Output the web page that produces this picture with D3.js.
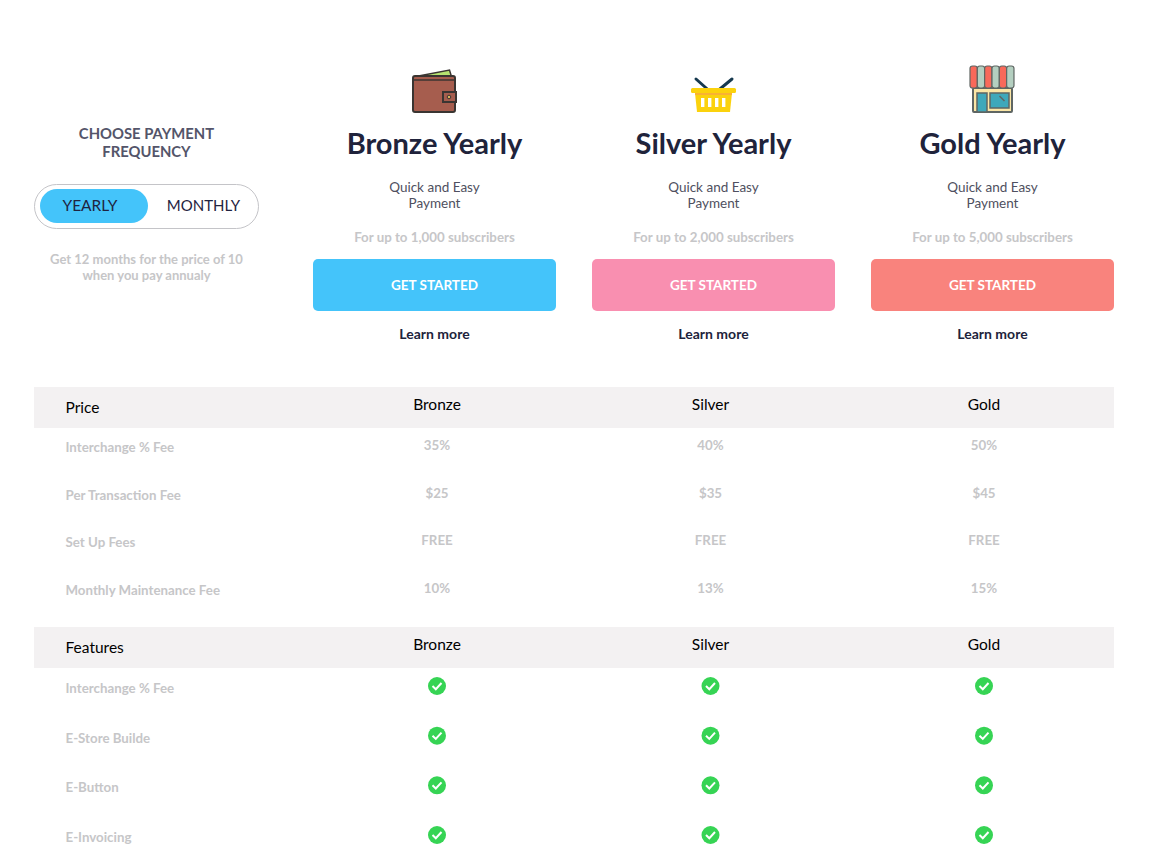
<!DOCTYPE html>
<html>
<head>
<meta charset="utf-8">
<script src="https://cdn.jsdelivr.net/npm/d3@7"></script>
<style>
html, body { margin: 0; padding: 0; background: #fff; overflow: hidden; }
text { font-family: Lato, "Noto Sans", sans-serif; }
</style>
</head>
<body>
<div id="chart"></div>
<script>
"use strict";

const plans = ["Bronze", "Silver", "Gold"];
const planColors = ["#44c4fa", "#f98fb0", "#f9837d"];
const subscribers = ["For up to 1,000 subscribers", "For up to 2,000 subscribers", "For up to 5,000 subscribers"];

const priceRows = ["Interchange % Fee", "Per Transaction Fee", "Set Up Fees", "Monthly Maintenance Fee"];
const priceBronze = ["35%", "$25", "FREE", "10%"];
const priceSilver = ["40%", "$35", "FREE", "13%"];
const priceGold = ["50%", "$45", "FREE", "15%"];
const priceValues = [priceBronze, priceSilver, priceGold];

const featureRows = ["Interchange % Fee", "E-Store Builde", "E-Button", "E-Invoicing"];

const width = 1156;
const height = 849;

const svg = d3.select("#chart").append("svg")
    .attr("width", width)
    .attr("height", height)
    .style("display", "block");

const headX = d3.scalePoint().domain(plans).range([434.5, 992.5]);
const colX = d3.scalePoint().domain(plans).range([437, 984]);
const priceY = d3.scalePoint().domain(priceRows).range([445, 588]);
const featureY = d3.scalePoint().domain(featureRows).range([686, 835]);

function label(x, y, str, size, fill, weight, anchor) {
    return svg.append("text")
        .attr("x", x)
        .attr("y", y)
        .attr("text-anchor", anchor || "middle")
        .attr("dominant-baseline", "central")
        .attr("font-size", size)
        .attr("font-weight", weight || 400)
        .attr("fill", fill)
        .text(str);
}

// left panel
label(146.5, 132.5, "CHOOSE PAYMENT", 14.8, "#54556a", 700);
label(146.5, 150.5, "FREQUENCY", 14.8, "#54556a", 700);
svg.append("rect").attr("x", 34.5).attr("y", 184.5).attr("width", 224).attr("height", 44).attr("rx", 22)
    .attr("fill", "#fff").attr("stroke", "#c4c4c8");
svg.append("rect").attr("x", 40).attr("y", 189).attr("width", 108).attr("height", 34).attr("rx", 17)
    .attr("fill", "#44c4fa");
label(90, 204.5, "YEARLY", 15.5, "#1f2340");
label(203.5, 204.5, "MONTHLY", 15, "#1f2340");
label(146.5, 258.5, "Get 12 months for the price of 10", 13, "#c6c6c8", 700);
label(146.5, 274.5, "when you pay annualy", 13, "#c6c6c8", 700);

// plan headers
plans.forEach(function (p, i) {
    const x = headX(p);
    label(x, 142.5, p + " Yearly", 29, "#20233b", 700);
    label(x, 186.5, "Quick and Easy", 13.5, "#4f5060");
    label(x, 202.5, "Payment", 13.5, "#4f5060");
    label(x, 237, subscribers[i], 13.3, "#c6c6c8", 700);
    svg.append("rect").attr("x", x - 121.5).attr("y", 259).attr("width", 243).attr("height", 52).attr("rx", 5)
        .attr("fill", planColors[i]);
    label(x, 284.5, "GET STARTED", 13.5, "#fff", 700);
    label(x, 333, "Learn more", 14, "#20233b", 700);
});

// icons
function drawWallet(g) {
    const stroke = "#3a3532";
    g.append("path").attr("d", "M-17 -16 L14 -22 L17 -12 L17 -14 Z").attr("fill", "#b5e26f").attr("stroke", stroke).attr("stroke-width", 1.5);
    g.append("rect").attr("x", -22.5).attr("y", -16).attr("width", 42).attr("height", 36).attr("rx", 2)
        .attr("fill", "#a65d4e").attr("stroke", stroke).attr("stroke-width", 2);
    g.append("path").attr("d", "M-22 -12 H19").attr("stroke", stroke).attr("stroke-width", 1.5);
    g.append("rect").attr("x", 7.5).attr("y", 0).attr("width", 13).attr("height", 10)
        .attr("fill", "#a65d4e").attr("stroke", stroke).attr("stroke-width", 2);
    g.append("circle").attr("cx", 13.5).attr("cy", 5).attr("r", 1.8).attr("fill", "#d8b45a").attr("stroke", stroke);
}

function drawBasket(g) {
    g.append("path").attr("d", "M-18.5 -16 L-5 -4 M17.5 -16 L3 -4")
        .attr("stroke", "#16394f").attr("stroke-width", 3).attr("stroke-linecap", "round");
    g.append("path").attr("d", "M-19.5 -2 H17.5 L15.5 17 H-17.5 Z").attr("fill", "#fbd20d");
    g.append("rect").attr("x", -19.5).attr("y", -2).attr("width", 37).attr("height", 2).attr("fill", "#f9b233");
    g.append("rect").attr("x", -23.5).attr("y", -7).attr("width", 45).attr("height", 5).attr("rx", 1.5).attr("fill", "#fbd20d");
    d3.range(4).forEach(function (k) {
        g.append("rect").attr("x", -13.5 + k * 7).attr("y", 3).attr("width", 3.4).attr("height", 9).attr("fill", "#fff");
    });
}

function drawShop(g) {
    const stroke = "#5f6663";
    g.append("rect").attr("x", -20.5).attr("y", -1).attr("width", 39).attr("height", 24).attr("rx", 1).attr("fill", "#fbe6a6").attr("stroke", stroke).attr("stroke-width", 2);
    g.append("rect").attr("x", -16.5).attr("y", 4).attr("width", 10).attr("height", 19).attr("fill", "#3fa8ba").attr("stroke", stroke).attr("stroke-width", 1.5);
    g.append("rect").attr("x", -3.5).attr("y", 4).attr("width", 19).attr("height", 15).attr("fill", "#3fa8ba").attr("stroke", stroke).attr("stroke-width", 1.5);
    g.append("path").attr("d", "M6 7 L11 12").attr("stroke", stroke).attr("stroke-width", 1.5);
    ["#f8695a", "#b4cfc0", "#f8695a", "#b4cfc0", "#f8695a", "#b4cfc0"].forEach(function (c, k) {
        g.append("rect").attr("x", -23.5 + k * 7.33).attr("y", -23).attr("width", 7.33).attr("height", 22).attr("rx", 2.5)
            .attr("fill", c).attr("stroke", stroke).attr("stroke-width", 1.2);
    });
}

[drawWallet, drawBasket, drawShop].forEach(function (draw, i) {
    const iconX = [435.5, 714.5, 993.5][i];
    const iconY = [92, 95, 89][i];
    draw(svg.append("g").attr("transform", `translate(${iconX}, ${iconY})`));
});

// table header band
function band(y, title) {
    svg.append("rect").attr("x", 34).attr("y", y).attr("width", 1080).attr("height", 41).attr("fill", "#f3f1f2");
    label(65.5, y + 19.5, title, 15.5, "#000", 400, "start");
    plans.forEach(function (p) {
        label(colX(p), y + 17, p, 15.5, "#000");
    });
}

band(387, "Price");
band(627, "Features");

// price rows
priceRows.forEach(function (row, r) {
    const y = priceY(row);
    label(65.5, y + 2, row, 13.3, "#c6c6c8", 700, "start");
    plans.forEach(function (p, i) {
        label(colX(p), y, priceValues[i][r], 13.3, "#c6c6c8", 700);
    });
});

// feature rows
featureRows.forEach(function (row) {
    const y = featureY(row);
    label(65.5, y + 2, row, 13.3, "#c6c6c8", 700, "start");
    plans.forEach(function (p) {
        const g = svg.append("g").attr("transform", `translate(${colX(p)}, ${y})`);
        g.append("circle").attr("r", 9).attr("fill", "#36d454");
        g.append("path").attr("d", "M-4.5 0 L-1.2 3.2 L4.5 -3")
            .attr("fill", "none").attr("stroke", "#fff").attr("stroke-width", 2);
    });
});
</script>
</body>
</html>
